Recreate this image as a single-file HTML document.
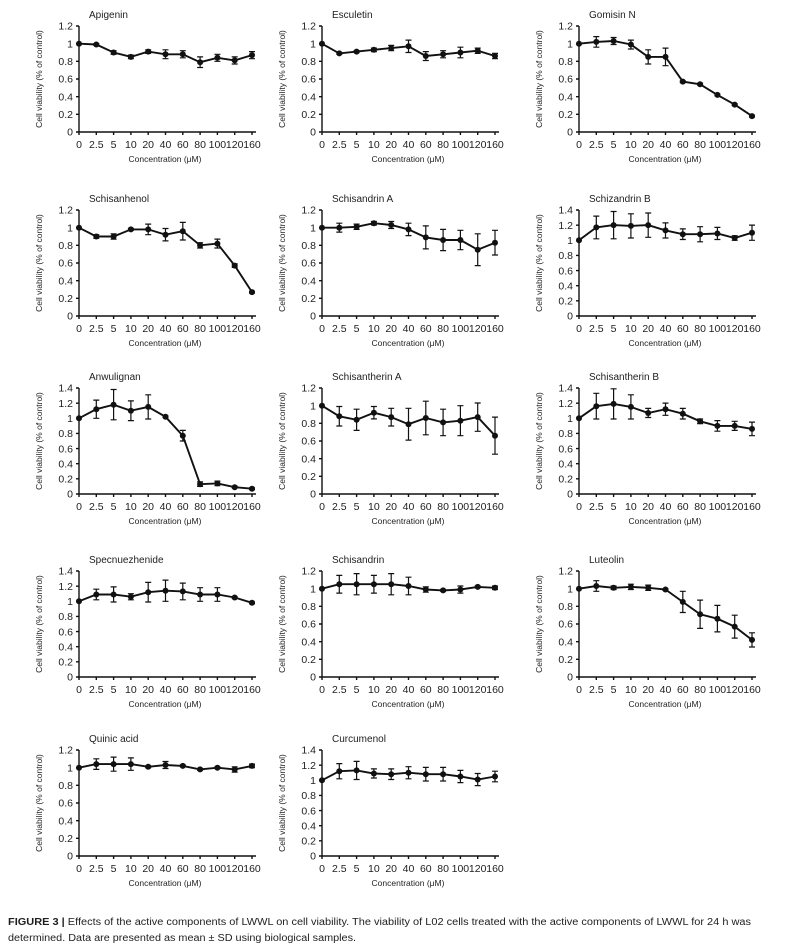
<!DOCTYPE html>
<html><head><meta charset="utf-8"><style>
html,body{margin:0;padding:0;background:#fff}
svg{display:block}
text{font-family:"Liberation Sans",Arial,sans-serif;fill:#1e1e1e}
.t{font-size:10px}
.xl{font-size:10.5px;text-anchor:middle}
.yl{font-size:10.5px;text-anchor:end}
.xt{font-size:8.5px;text-anchor:middle}
.yt{font-size:8.5px;text-anchor:middle}
</style></head><body>
<svg id="s" width="800" height="946" viewBox="0 0 800 946" xmlns="http://www.w3.org/2000/svg">
<rect width="800" height="946" fill="#fff"/>
<g id="panels"></g>

<g transform="translate(79,132)"><text class="t" x="10" y="-114">Apigenin</text>
<text class="yl" x="-6" y="3.7">0</text><text class="yl" x="-6" y="-14">0.2</text><text class="yl" x="-6" y="-31.6">0.4</text><text class="yl" x="-6" y="-49.3">0.6</text><text class="yl" x="-6" y="-67">0.8</text><text class="yl" x="-6" y="-84.6">1</text><text class="yl" x="-6" y="-102.3">1.2</text>
<text class="xl" x="0" y="16">0</text><text class="xl" x="17.3" y="16">2.5</text><text class="xl" x="34.6" y="16">5</text><text class="xl" x="51.9" y="16">10</text><text class="xl" x="69.2" y="16">20</text><text class="xl" x="86.5" y="16">40</text><text class="xl" x="103.8" y="16">60</text><text class="xl" x="121.1" y="16">80</text><text class="xl" x="138.4" y="16">100</text><text class="xl" x="155.7" y="16">120</text><text class="xl" x="173" y="16">160</text>
<text class="xt" x="86" y="30">Concentration (μM)</text><text class="yt" transform="translate(-37,-53) rotate(-90)">Cell viability (% of control)</text></g>

<g transform="translate(322,132)"><text class="t" x="10" y="-114">Esculetin</text>
<text class="yl" x="-6" y="3.7">0</text><text class="yl" x="-6" y="-14">0.2</text><text class="yl" x="-6" y="-31.6">0.4</text><text class="yl" x="-6" y="-49.3">0.6</text><text class="yl" x="-6" y="-67">0.8</text><text class="yl" x="-6" y="-84.6">1</text><text class="yl" x="-6" y="-102.3">1.2</text>
<text class="xl" x="0" y="16">0</text><text class="xl" x="17.3" y="16">2.5</text><text class="xl" x="34.6" y="16">5</text><text class="xl" x="51.9" y="16">10</text><text class="xl" x="69.2" y="16">20</text><text class="xl" x="86.5" y="16">40</text><text class="xl" x="103.8" y="16">60</text><text class="xl" x="121.1" y="16">80</text><text class="xl" x="138.4" y="16">100</text><text class="xl" x="155.7" y="16">120</text><text class="xl" x="173" y="16">160</text>
<text class="xt" x="86" y="30">Concentration (μM)</text><text class="yt" transform="translate(-37,-53) rotate(-90)">Cell viability (% of control)</text></g>

<g transform="translate(579,132)"><text class="t" x="10" y="-114">Gomisin N</text>
<text class="yl" x="-6" y="3.7">0</text><text class="yl" x="-6" y="-14">0.2</text><text class="yl" x="-6" y="-31.6">0.4</text><text class="yl" x="-6" y="-49.3">0.6</text><text class="yl" x="-6" y="-67">0.8</text><text class="yl" x="-6" y="-84.6">1</text><text class="yl" x="-6" y="-102.3">1.2</text>
<text class="xl" x="0" y="16">0</text><text class="xl" x="17.3" y="16">2.5</text><text class="xl" x="34.6" y="16">5</text><text class="xl" x="51.9" y="16">10</text><text class="xl" x="69.2" y="16">20</text><text class="xl" x="86.5" y="16">40</text><text class="xl" x="103.8" y="16">60</text><text class="xl" x="121.1" y="16">80</text><text class="xl" x="138.4" y="16">100</text><text class="xl" x="155.7" y="16">120</text><text class="xl" x="173" y="16">160</text>
<text class="xt" x="86" y="30">Concentration (μM)</text><text class="yt" transform="translate(-37,-53) rotate(-90)">Cell viability (% of control)</text></g>

<g transform="translate(79,316)"><text class="t" x="10" y="-114">Schisanhenol</text>
<text class="yl" x="-6" y="3.7">0</text><text class="yl" x="-6" y="-14">0.2</text><text class="yl" x="-6" y="-31.6">0.4</text><text class="yl" x="-6" y="-49.3">0.6</text><text class="yl" x="-6" y="-67">0.8</text><text class="yl" x="-6" y="-84.6">1</text><text class="yl" x="-6" y="-102.3">1.2</text>
<text class="xl" x="0" y="16">0</text><text class="xl" x="17.3" y="16">2.5</text><text class="xl" x="34.6" y="16">5</text><text class="xl" x="51.9" y="16">10</text><text class="xl" x="69.2" y="16">20</text><text class="xl" x="86.5" y="16">40</text><text class="xl" x="103.8" y="16">60</text><text class="xl" x="121.1" y="16">80</text><text class="xl" x="138.4" y="16">100</text><text class="xl" x="155.7" y="16">120</text><text class="xl" x="173" y="16">160</text>
<text class="xt" x="86" y="30">Concentration (μM)</text><text class="yt" transform="translate(-37,-53) rotate(-90)">Cell viability (% of control)</text></g>

<g transform="translate(322,316)"><text class="t" x="10" y="-114">Schisandrin A</text>
<text class="yl" x="-6" y="3.7">0</text><text class="yl" x="-6" y="-14">0.2</text><text class="yl" x="-6" y="-31.6">0.4</text><text class="yl" x="-6" y="-49.3">0.6</text><text class="yl" x="-6" y="-67">0.8</text><text class="yl" x="-6" y="-84.6">1</text><text class="yl" x="-6" y="-102.3">1.2</text>
<text class="xl" x="0" y="16">0</text><text class="xl" x="17.3" y="16">2.5</text><text class="xl" x="34.6" y="16">5</text><text class="xl" x="51.9" y="16">10</text><text class="xl" x="69.2" y="16">20</text><text class="xl" x="86.5" y="16">40</text><text class="xl" x="103.8" y="16">60</text><text class="xl" x="121.1" y="16">80</text><text class="xl" x="138.4" y="16">100</text><text class="xl" x="155.7" y="16">120</text><text class="xl" x="173" y="16">160</text>
<text class="xt" x="86" y="30">Concentration (μM)</text><text class="yt" transform="translate(-37,-53) rotate(-90)">Cell viability (% of control)</text></g>

<g transform="translate(579,316)"><text class="t" x="10" y="-114">Schizandrin B</text>
<text class="yl" x="-6" y="3.7">0</text><text class="yl" x="-6" y="-11.4">0.2</text><text class="yl" x="-6" y="-26.6">0.4</text><text class="yl" x="-6" y="-41.7">0.6</text><text class="yl" x="-6" y="-56.9">0.8</text><text class="yl" x="-6" y="-72">1</text><text class="yl" x="-6" y="-87.2">1.2</text><text class="yl" x="-6" y="-102.3">1.4</text>
<text class="xl" x="0" y="16">0</text><text class="xl" x="17.3" y="16">2.5</text><text class="xl" x="34.6" y="16">5</text><text class="xl" x="51.9" y="16">10</text><text class="xl" x="69.2" y="16">20</text><text class="xl" x="86.5" y="16">40</text><text class="xl" x="103.8" y="16">60</text><text class="xl" x="121.1" y="16">80</text><text class="xl" x="138.4" y="16">100</text><text class="xl" x="155.7" y="16">120</text><text class="xl" x="173" y="16">160</text>
<text class="xt" x="86" y="30">Concentration (μM)</text><text class="yt" transform="translate(-37,-53) rotate(-90)">Cell viability (% of control)</text></g>

<g transform="translate(79,494)"><text class="t" x="10" y="-114">Anwulignan</text>
<text class="yl" x="-6" y="3.7">0</text><text class="yl" x="-6" y="-11.4">0.2</text><text class="yl" x="-6" y="-26.6">0.4</text><text class="yl" x="-6" y="-41.7">0.6</text><text class="yl" x="-6" y="-56.9">0.8</text><text class="yl" x="-6" y="-72">1</text><text class="yl" x="-6" y="-87.2">1.2</text><text class="yl" x="-6" y="-102.3">1.4</text>
<text class="xl" x="0" y="16">0</text><text class="xl" x="17.3" y="16">2.5</text><text class="xl" x="34.6" y="16">5</text><text class="xl" x="51.9" y="16">10</text><text class="xl" x="69.2" y="16">20</text><text class="xl" x="86.5" y="16">40</text><text class="xl" x="103.8" y="16">60</text><text class="xl" x="121.1" y="16">80</text><text class="xl" x="138.4" y="16">100</text><text class="xl" x="155.7" y="16">120</text><text class="xl" x="173" y="16">160</text>
<text class="xt" x="86" y="30">Concentration (μM)</text><text class="yt" transform="translate(-37,-53) rotate(-90)">Cell viability (% of control)</text></g>

<g transform="translate(322,494)"><text class="t" x="10" y="-114">Schisantherin A</text>
<text class="yl" x="-6" y="3.7">0</text><text class="yl" x="-6" y="-14">0.2</text><text class="yl" x="-6" y="-31.6">0.4</text><text class="yl" x="-6" y="-49.3">0.6</text><text class="yl" x="-6" y="-67">0.8</text><text class="yl" x="-6" y="-84.6">1</text><text class="yl" x="-6" y="-102.3">1.2</text>
<text class="xl" x="0" y="16">0</text><text class="xl" x="17.3" y="16">2.5</text><text class="xl" x="34.6" y="16">5</text><text class="xl" x="51.9" y="16">10</text><text class="xl" x="69.2" y="16">20</text><text class="xl" x="86.5" y="16">40</text><text class="xl" x="103.8" y="16">60</text><text class="xl" x="121.1" y="16">80</text><text class="xl" x="138.4" y="16">100</text><text class="xl" x="155.7" y="16">120</text><text class="xl" x="173" y="16">160</text>
<text class="xt" x="86" y="30">Concentration (μM)</text><text class="yt" transform="translate(-37,-53) rotate(-90)">Cell viability (% of control)</text></g>

<g transform="translate(579,494)"><text class="t" x="10" y="-114">Schisantherin B</text>
<text class="yl" x="-6" y="3.7">0</text><text class="yl" x="-6" y="-11.4">0.2</text><text class="yl" x="-6" y="-26.6">0.4</text><text class="yl" x="-6" y="-41.7">0.6</text><text class="yl" x="-6" y="-56.9">0.8</text><text class="yl" x="-6" y="-72">1</text><text class="yl" x="-6" y="-87.2">1.2</text><text class="yl" x="-6" y="-102.3">1.4</text>
<text class="xl" x="0" y="16">0</text><text class="xl" x="17.3" y="16">2.5</text><text class="xl" x="34.6" y="16">5</text><text class="xl" x="51.9" y="16">10</text><text class="xl" x="69.2" y="16">20</text><text class="xl" x="86.5" y="16">40</text><text class="xl" x="103.8" y="16">60</text><text class="xl" x="121.1" y="16">80</text><text class="xl" x="138.4" y="16">100</text><text class="xl" x="155.7" y="16">120</text><text class="xl" x="173" y="16">160</text>
<text class="xt" x="86" y="30">Concentration (μM)</text><text class="yt" transform="translate(-37,-53) rotate(-90)">Cell viability (% of control)</text></g>

<g transform="translate(79,677)"><text class="t" x="10" y="-114">Specnuezhenide</text>
<text class="yl" x="-6" y="3.7">0</text><text class="yl" x="-6" y="-11.4">0.2</text><text class="yl" x="-6" y="-26.6">0.4</text><text class="yl" x="-6" y="-41.7">0.6</text><text class="yl" x="-6" y="-56.9">0.8</text><text class="yl" x="-6" y="-72">1</text><text class="yl" x="-6" y="-87.2">1.2</text><text class="yl" x="-6" y="-102.3">1.4</text>
<text class="xl" x="0" y="16">0</text><text class="xl" x="17.3" y="16">2.5</text><text class="xl" x="34.6" y="16">5</text><text class="xl" x="51.9" y="16">10</text><text class="xl" x="69.2" y="16">20</text><text class="xl" x="86.5" y="16">40</text><text class="xl" x="103.8" y="16">60</text><text class="xl" x="121.1" y="16">80</text><text class="xl" x="138.4" y="16">100</text><text class="xl" x="155.7" y="16">120</text><text class="xl" x="173" y="16">160</text>
<text class="xt" x="86" y="30">Concentration (μM)</text><text class="yt" transform="translate(-37,-53) rotate(-90)">Cell viability (% of control)</text></g>

<g transform="translate(322,677)"><text class="t" x="10" y="-114">Schisandrin</text>
<text class="yl" x="-6" y="3.7">0</text><text class="yl" x="-6" y="-14">0.2</text><text class="yl" x="-6" y="-31.6">0.4</text><text class="yl" x="-6" y="-49.3">0.6</text><text class="yl" x="-6" y="-67">0.8</text><text class="yl" x="-6" y="-84.6">1</text><text class="yl" x="-6" y="-102.3">1.2</text>
<text class="xl" x="0" y="16">0</text><text class="xl" x="17.3" y="16">2.5</text><text class="xl" x="34.6" y="16">5</text><text class="xl" x="51.9" y="16">10</text><text class="xl" x="69.2" y="16">20</text><text class="xl" x="86.5" y="16">40</text><text class="xl" x="103.8" y="16">60</text><text class="xl" x="121.1" y="16">80</text><text class="xl" x="138.4" y="16">100</text><text class="xl" x="155.7" y="16">120</text><text class="xl" x="173" y="16">160</text>
<text class="xt" x="86" y="30">Concentration (μM)</text><text class="yt" transform="translate(-37,-53) rotate(-90)">Cell viability (% of control)</text></g>

<g transform="translate(579,677)"><text class="t" x="10" y="-114">Luteolin</text>
<text class="yl" x="-6" y="3.7">0</text><text class="yl" x="-6" y="-14">0.2</text><text class="yl" x="-6" y="-31.6">0.4</text><text class="yl" x="-6" y="-49.3">0.6</text><text class="yl" x="-6" y="-67">0.8</text><text class="yl" x="-6" y="-84.6">1</text><text class="yl" x="-6" y="-102.3">1.2</text>
<text class="xl" x="0" y="16">0</text><text class="xl" x="17.3" y="16">2.5</text><text class="xl" x="34.6" y="16">5</text><text class="xl" x="51.9" y="16">10</text><text class="xl" x="69.2" y="16">20</text><text class="xl" x="86.5" y="16">40</text><text class="xl" x="103.8" y="16">60</text><text class="xl" x="121.1" y="16">80</text><text class="xl" x="138.4" y="16">100</text><text class="xl" x="155.7" y="16">120</text><text class="xl" x="173" y="16">160</text>
<text class="xt" x="86" y="30">Concentration (μM)</text><text class="yt" transform="translate(-37,-53) rotate(-90)">Cell viability (% of control)</text></g>

<g transform="translate(79,856)"><text class="t" x="10" y="-114">Quinic acid</text>
<text class="yl" x="-6" y="3.7">0</text><text class="yl" x="-6" y="-14">0.2</text><text class="yl" x="-6" y="-31.6">0.4</text><text class="yl" x="-6" y="-49.3">0.6</text><text class="yl" x="-6" y="-67">0.8</text><text class="yl" x="-6" y="-84.6">1</text><text class="yl" x="-6" y="-102.3">1.2</text>
<text class="xl" x="0" y="16">0</text><text class="xl" x="17.3" y="16">2.5</text><text class="xl" x="34.6" y="16">5</text><text class="xl" x="51.9" y="16">10</text><text class="xl" x="69.2" y="16">20</text><text class="xl" x="86.5" y="16">40</text><text class="xl" x="103.8" y="16">60</text><text class="xl" x="121.1" y="16">80</text><text class="xl" x="138.4" y="16">100</text><text class="xl" x="155.7" y="16">120</text><text class="xl" x="173" y="16">160</text>
<text class="xt" x="86" y="30">Concentration (μM)</text><text class="yt" transform="translate(-37,-53) rotate(-90)">Cell viability (% of control)</text></g>

<g transform="translate(322,856)"><text class="t" x="10" y="-114">Curcumenol</text>
<text class="yl" x="-6" y="3.7">0</text><text class="yl" x="-6" y="-11.4">0.2</text><text class="yl" x="-6" y="-26.6">0.4</text><text class="yl" x="-6" y="-41.7">0.6</text><text class="yl" x="-6" y="-56.9">0.8</text><text class="yl" x="-6" y="-72">1</text><text class="yl" x="-6" y="-87.2">1.2</text><text class="yl" x="-6" y="-102.3">1.4</text>
<text class="xl" x="0" y="16">0</text><text class="xl" x="17.3" y="16">2.5</text><text class="xl" x="34.6" y="16">5</text><text class="xl" x="51.9" y="16">10</text><text class="xl" x="69.2" y="16">20</text><text class="xl" x="86.5" y="16">40</text><text class="xl" x="103.8" y="16">60</text><text class="xl" x="121.1" y="16">80</text><text class="xl" x="138.4" y="16">100</text><text class="xl" x="155.7" y="16">120</text><text class="xl" x="173" y="16">160</text>
<text class="xt" x="86" y="30">Concentration (μM)</text><text class="yt" transform="translate(-37,-53) rotate(-90)">Cell viability (% of control)</text></g>

<text x="8" y="925" style="font-size:10px" textLength="743" lengthAdjust="spacingAndGlyphs"><tspan style="font-weight:bold">FIGURE 3 |</tspan> Effects of the active components of LWWL on cell viability. The viability of L02 cells treated with the active components of LWWL for 24 h was</text>
<text x="8" y="941" style="font-size:10px" textLength="348" lengthAdjust="spacingAndGlyphs">determined. Data are presented as mean ± SD using biological samples.</text>
</svg>
<script>
(function(){
var P=[
[79,132,1.2,[1,.99,.9,.85,.91,.88,.88,.79,.84,.81,.87],[0,.01,.02,.02,.02,.05,.04,.06,.04,.04,.04]],
[322,132,1.2,[1,.89,.91,.93,.95,.97,.86,.88,.9,.92,.86],[0,.01,.01,.02,.03,.07,.05,.04,.06,.03,.03]],
[579,132,1.2,[1,1.02,1.03,.99,.85,.85,.57,.54,.42,.31,.18],[0,.06,.04,.05,.08,.1,.01,.01,.01,.01,.01]],
[79,316,1.2,[1,.9,.9,.98,.98,.92,.96,.8,.82,.57,.27],[0,.02,.03,.01,.06,.07,.1,.03,.05,.02,.01]],
[322,316,1.2,[1,1,1.01,1.05,1.03,.98,.89,.86,.86,.75,.83],[0,.05,.03,.02,.04,.07,.13,.12,.11,.18,.14]],
[579,316,1.4,[1,1.17,1.2,1.19,1.2,1.13,1.08,1.08,1.09,1.03,1.1],[0,.15,.18,.16,.16,.1,.07,.1,.08,.03,.1]],
[79,494,1.4,[1,1.12,1.18,1.1,1.15,1.02,.77,.13,.14,.09,.07],[0,.12,.2,.13,.16,.01,.07,.03,.03,.01,.01]],
[322,494,1.2,[1,.88,.84,.92,.87,.79,.86,.81,.83,.87,.66],[0,.11,.12,.07,.1,.18,.19,.15,.17,.16,.21]],
[579,494,1.4,[1,1.16,1.19,1.15,1.07,1.12,1.06,.96,.9,.9,.86],[0,.17,.2,.16,.06,.08,.07,.03,.07,.06,.09]],
[79,677,1.4,[1,1.09,1.09,1.06,1.12,1.14,1.13,1.09,1.09,1.05,.98],[0,.07,.1,.04,.13,.14,.11,.09,.09,.01,.01]],
[322,677,1.2,[1,1.05,1.05,1.05,1.05,1.03,.99,.98,.99,1.02,1.01],[0,.1,.12,.1,.12,.1,.03,.01,.04,.01,.02]],
[579,677,1.2,[1,1.03,1.01,1.02,1.01,.99,.85,.71,.66,.57,.42],[0,.06,.02,.03,.03,.01,.12,.16,.15,.13,.08]],
[79,856,1.2,[1,1.04,1.04,1.04,1.01,1.03,1.02,.98,1,.98,1.02],[0,.06,.08,.07,.01,.04,.01,.01,.01,.03,.02]],
[322,856,1.4,[1,1.12,1.13,1.09,1.08,1.1,1.08,1.08,1.05,1.01,1.05],[0,.1,.12,.06,.07,.08,.09,.09,.08,.08,.07]]
];
var s='';
P.forEach(function(p){
 var X=p[0],Y=p[1],m=p[2],v=p[3],e=p[4],k=106/m,dx=17.3;
 s+='<g transform="translate('+X+','+Y+')" stroke="#111" fill="none">';
 var ax='M0,-106V0H177';
 var n=Math.round(m/0.2);
 for(var j=0;j<=n;j++){var yy=(-106*j/n).toFixed(2);ax+='M-3,'+yy+'H0';}
 for(var i=0;i<11;i++){ax+='M'+(i*dx).toFixed(1)+',0v3';}
 s+='<path d="'+ax+'" stroke-width="1.4"/>';
 var eb='';
 for(var i=0;i<11;i++){if(e[i]>0.005){var x=i*dx,y1=-(v[i]+e[i])*k,y2=-(v[i]-e[i])*k;
  eb+='M'+x.toFixed(1)+','+y1.toFixed(1)+'V'+y2.toFixed(1)+'M'+(x-3).toFixed(1)+','+y1.toFixed(1)+'h6M'+(x-3).toFixed(1)+','+y2.toFixed(1)+'h6';}}
 s+='<path d="'+eb+'" stroke-width="1.2"/>';
 var pl='';
 for(var i=0;i<11;i++){pl+=(i*dx).toFixed(1)+','+(-v[i]*k).toFixed(1)+' ';}
 s+='<polyline points="'+pl+'" stroke-width="1.9"/>';
 for(var i=0;i<11;i++){s+='<circle cx="'+(i*dx).toFixed(1)+'" cy="'+(-v[i]*k).toFixed(1)+'" r="3" fill="#111" stroke="none"/>';}
 s+='</g>';
});
document.getElementById('panels').innerHTML=s;
})();
</script>
</body></html>
